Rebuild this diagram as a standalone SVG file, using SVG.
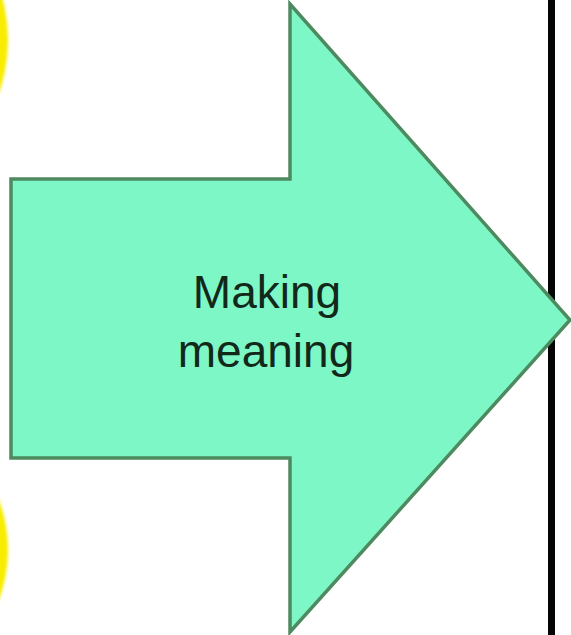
<svg xmlns="http://www.w3.org/2000/svg" width="571" height="635" viewBox="0 0 571 635">
<style>
.blob{fill:#f8ec00;filter:url(#soft)}
.arrow{fill:#7ef7c6;stroke:#4e8a60;stroke-width:3.5;stroke-linejoin:miter}
.label{font-family:"Liberation Sans",Arial,sans-serif;font-size:46px;fill:#12291a;text-anchor:middle}
</style>
<defs>
<filter id="soft" x="-20%" y="-20%" width="140%" height="140%"><feGaussianBlur stdDeviation="1.5"/></filter>
</defs>
<rect width="571" height="635" fill="#ffffff"/>
<g id="yellow-top"><circle class="blob" cx="-152" cy="40" r="160"/></g>
<g id="yellow-bottom"><circle class="blob" cx="-134" cy="550" r="142"/></g>
<g id="divider"><rect x="548" y="0" width="7" height="635" fill="#050505"/></g>
<g id="arrow-node">
<polygon class="arrow" points="11,179 290,179 290,4 570,320 290,632 290,458 11,458"/>
<text class="label" x="267" y="308">Making</text>
<text class="label" x="266" y="367">meaning</text>
</g>
<g id="connectors"></g>
</svg>
